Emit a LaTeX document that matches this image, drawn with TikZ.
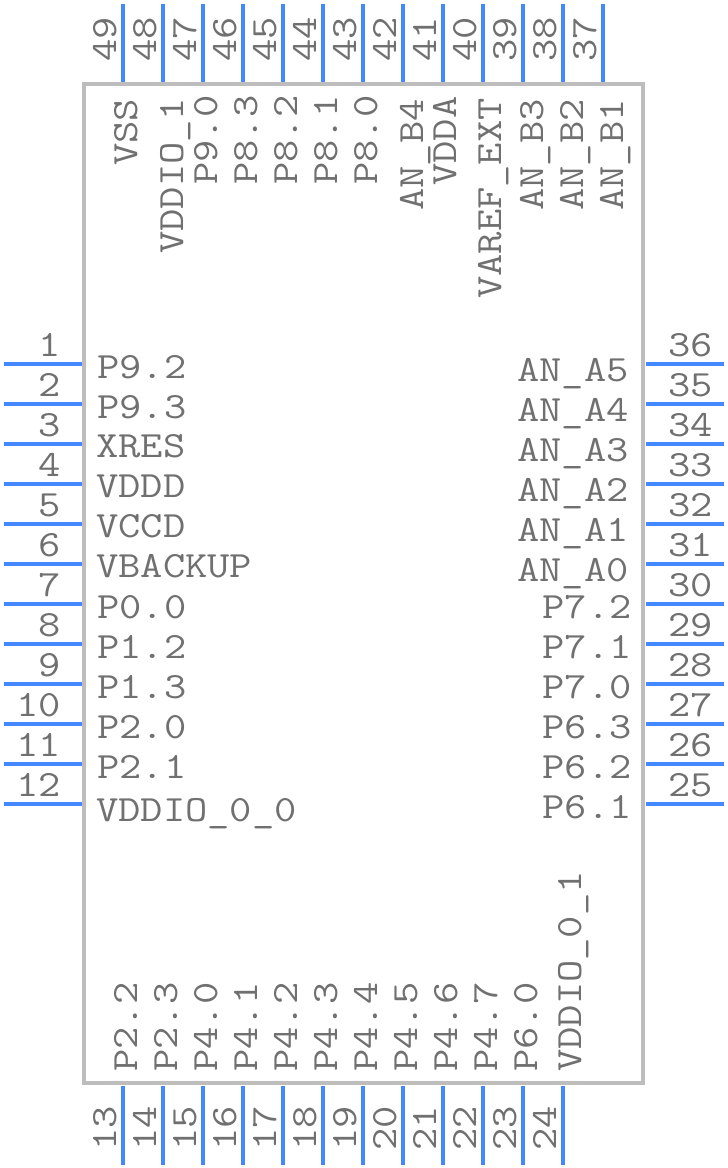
\documentclass[tikz,border=0pt]{standalone}
\usepackage{fontspec}
\setmonofont[FakeStretch=1.17]{Latin Modern Mono}
\usepackage{xcolor}
\definecolor{pinblue}{HTML}{4488FF}
\definecolor{bodygray}{HTML}{BDBDBD}
\definecolor{textgray}{HTML}{707070}
\tikzset{pin/.style={draw=pinblue,line width=3.4pt},body/.style={draw=bodygray,line width=3.4pt,rectangle,inner sep=0pt,minimum width=559pt,minimum height=999pt}}

\begin{document}
\begin{tikzpicture}[x=1pt,y=-1pt,txt/.style={text=textgray,inner sep=0pt,font=\ttfamily\fontsize{37}{37}\selectfont},numl/.style={txt,anchor=base east},numr/.style={txt,anchor=base west},lblw/.style={txt,anchor=base west},lble/.style={txt,anchor=base east},vert/.style={txt,anchor=base west,rotate=90}]
	\useasboundingbox (0,0) rectangle (728,1168);
	% outline
	\node[body] (chip) at (363.5,583.5) {};

	% left side
	\coordinate (a1) at (4,364); \coordinate (b1) at (82,364);
	\coordinate (a2) at (4,404); \coordinate (b2) at (82,404);
	\coordinate (a3) at (4,444); \coordinate (b3) at (82,444);
	\coordinate (a4) at (4,484); \coordinate (b4) at (82,484);
	\coordinate (a5) at (4,524); \coordinate (b5) at (82,524);
	\coordinate (a6) at (4,564); \coordinate (b6) at (82,564);
	\coordinate (a7) at (4,604); \coordinate (b7) at (82,604);
	\coordinate (a8) at (4,644); \coordinate (b8) at (82,644);
	\coordinate (a9) at (4,684); \coordinate (b9) at (82,684);
	\coordinate (a10) at (4,724); \coordinate (b10) at (82,724);
	\coordinate (a11) at (4,764); \coordinate (b11) at (82,764);
	\coordinate (a12) at (4,804); \coordinate (b12) at (82,804);

	\draw[pin] (a1) -- (b1);
	\draw[pin] (a2) -- (b2);
	\draw[pin] (a3) -- (b3);
	\draw[pin] (a4) -- (b4);
	\draw[pin] (a5) -- (b5);
	\draw[pin] (a6) -- (b6);
	\draw[pin] (a7) -- (b7);
	\draw[pin] (a8) -- (b8);
	\draw[pin] (a9) -- (b9);
	\draw[pin] (a10) -- (b10);
	\draw[pin] (a11) -- (b11);
	\draw[pin] (a12) -- (b12);

	\node[numl] (n1) at (61,356) {1};
	\node[numl] (n2) at (61,396) {2};
	\node[numl] (n3) at (61,436) {3};
	\node[numl] (n4) at (61,476) {4};
	\node[numl] (n5) at (61,516) {5};
	\node[numl] (n6) at (61,556) {6};
	\node[numl] (n7) at (61,596) {7};
	\node[numl] (n8) at (61,636) {8};
	\node[numl] (n9) at (61,676) {9};
	\node[numl] (n10) at (61,716) {10};
	\node[numl] (n11) at (61,756) {11};
	\node[numl] (n12) at (61,796) {12};

	\node[lblw] (l1) at (97,378) {P9.2};
	\node[lblw] (l2) at (97,418) {P9.3};
	\node[lblw] (l3) at (96,457) {XRES};
	\node[lblw] (l4) at (96,497) {VDDD};
	\node[lblw] (l5) at (96,537) {VCCD};
	\node[lblw] (l6) at (96,577) {VBACKUP};
	\node[lblw] (l7) at (97,618) {P0.0};
	\node[lblw] (l8) at (97,658) {P1.2};
	\node[lblw] (l9) at (97,698) {P1.3};
	\node[lblw] (l10) at (97,738) {P2.0};
	\node[lblw] (l11) at (97,778) {P2.1};
	\node[lblw] (l12) at (96,821) {VDDIO\_0\_0};

	% bottom side
	\coordinate (a13) at (123,1165); \coordinate (b13) at (123,1086);
	\coordinate (a14) at (163,1165); \coordinate (b14) at (163,1086);
	\coordinate (a15) at (203,1165); \coordinate (b15) at (203,1086);
	\coordinate (a16) at (243,1165); \coordinate (b16) at (243,1086);
	\coordinate (a17) at (283,1165); \coordinate (b17) at (283,1086);
	\coordinate (a18) at (323,1165); \coordinate (b18) at (323,1086);
	\coordinate (a19) at (363,1165); \coordinate (b19) at (363,1086);
	\coordinate (a20) at (403,1165); \coordinate (b20) at (403,1086);
	\coordinate (a21) at (443,1165); \coordinate (b21) at (443,1086);
	\coordinate (a22) at (483,1165); \coordinate (b22) at (483,1086);
	\coordinate (a23) at (523,1165); \coordinate (b23) at (523,1086);
	\coordinate (a24) at (563,1165); \coordinate (b24) at (563,1086);

	\draw[pin] (a13) -- (b13);
	\draw[pin] (a14) -- (b14);
	\draw[pin] (a15) -- (b15);
	\draw[pin] (a16) -- (b16);
	\draw[pin] (a17) -- (b17);
	\draw[pin] (a18) -- (b18);
	\draw[pin] (a19) -- (b19);
	\draw[pin] (a20) -- (b20);
	\draw[pin] (a21) -- (b21);
	\draw[pin] (a22) -- (b22);
	\draw[pin] (a23) -- (b23);
	\draw[pin] (a24) -- (b24);

	\node[vert] (n13) at (116,1151) {13};
	\node[vert] (n14) at (156,1151) {14};
	\node[vert] (n15) at (196,1151) {15};
	\node[vert] (n16) at (236,1151) {16};
	\node[vert] (n17) at (276,1151) {17};
	\node[vert] (n18) at (316,1151) {18};
	\node[vert] (n19) at (356,1151) {19};
	\node[vert] (n20) at (396,1151) {20};
	\node[vert] (n21) at (436,1151) {21};
	\node[vert] (n22) at (476,1151) {22};
	\node[vert] (n23) at (516,1151) {23};
	\node[vert] (n24) at (556,1151) {24};

	\node[vert] (l13) at (137,1072) {P2.2};
	\node[vert] (l14) at (177,1072) {P2.3};
	\node[vert] (l15) at (217,1072) {P4.0};
	\node[vert] (l16) at (257,1072) {P4.1};
	\node[vert] (l17) at (297,1072) {P4.2};
	\node[vert] (l18) at (337,1072) {P4.3};
	\node[vert] (l19) at (377,1072) {P4.4};
	\node[vert] (l20) at (417,1072) {P4.5};
	\node[vert] (l21) at (457,1072) {P4.6};
	\node[vert] (l22) at (497,1072) {P4.7};
	\node[vert] (l23) at (537,1072) {P6.0};
	\node[vert] (l24) at (581,1072) {VDDIO\_0\_1};

	% right side
	\coordinate (a25) at (724,804); \coordinate (b25) at (646,804);
	\coordinate (a26) at (724,764); \coordinate (b26) at (646,764);
	\coordinate (a27) at (724,724); \coordinate (b27) at (646,724);
	\coordinate (a28) at (724,684); \coordinate (b28) at (646,684);
	\coordinate (a29) at (724,644); \coordinate (b29) at (646,644);
	\coordinate (a30) at (724,604); \coordinate (b30) at (646,604);
	\coordinate (a31) at (724,564); \coordinate (b31) at (646,564);
	\coordinate (a32) at (724,524); \coordinate (b32) at (646,524);
	\coordinate (a33) at (724,484); \coordinate (b33) at (646,484);
	\coordinate (a34) at (724,444); \coordinate (b34) at (646,444);
	\coordinate (a35) at (724,404); \coordinate (b35) at (646,404);
	\coordinate (a36) at (724,364); \coordinate (b36) at (646,364);

	\draw[pin] (a25) -- (b25);
	\draw[pin] (a26) -- (b26);
	\draw[pin] (a27) -- (b27);
	\draw[pin] (a28) -- (b28);
	\draw[pin] (a29) -- (b29);
	\draw[pin] (a30) -- (b30);
	\draw[pin] (a31) -- (b31);
	\draw[pin] (a32) -- (b32);
	\draw[pin] (a33) -- (b33);
	\draw[pin] (a34) -- (b34);
	\draw[pin] (a35) -- (b35);
	\draw[pin] (a36) -- (b36);

	\node[numr] (n25) at (668,796) {25};
	\node[numr] (n26) at (668,756) {26};
	\node[numr] (n27) at (668,716) {27};
	\node[numr] (n28) at (668,676) {28};
	\node[numr] (n29) at (668,636) {29};
	\node[numr] (n30) at (668,596) {30};
	\node[numr] (n31) at (668,556) {31};
	\node[numr] (n32) at (668,516) {32};
	\node[numr] (n33) at (668,476) {33};
	\node[numr] (n34) at (668,436) {34};
	\node[numr] (n35) at (668,396) {35};
	\node[numr] (n36) at (668,356) {36};

	\node[lble] (l25) at (632,818) {P6.1};
	\node[lble] (l26) at (632,778) {P6.2};
	\node[lble] (l27) at (632,738) {P6.3};
	\node[lble] (l28) at (632,698) {P7.0};
	\node[lble] (l29) at (632,658) {P7.1};
	\node[lble] (l30) at (632,618) {P7.2};
	\node[lble] (l31) at (629,581) {AN\_A0};
	\node[lble] (l32) at (629,541) {AN\_A1};
	\node[lble] (l33) at (629,501) {AN\_A2};
	\node[lble] (l34) at (629,461) {AN\_A3};
	\node[lble] (l35) at (629,421) {AN\_A4};
	\node[lble] (l36) at (629,381) {AN\_A5};

	% top side
	\coordinate (a37) at (603,4); \coordinate (b37) at (603,82);
	\coordinate (a38) at (563,4); \coordinate (b38) at (563,82);
	\coordinate (a39) at (523,4); \coordinate (b39) at (523,82);
	\coordinate (a40) at (483,4); \coordinate (b40) at (483,82);
	\coordinate (a41) at (443,4); \coordinate (b41) at (443,82);
	\coordinate (a42) at (403,4); \coordinate (b42) at (403,82);
	\coordinate (a43) at (363,4); \coordinate (b43) at (363,82);
	\coordinate (a44) at (323,4); \coordinate (b44) at (323,82);
	\coordinate (a45) at (283,4); \coordinate (b45) at (283,82);
	\coordinate (a46) at (243,4); \coordinate (b46) at (243,82);
	\coordinate (a47) at (203,4); \coordinate (b47) at (203,82);
	\coordinate (a48) at (163,4); \coordinate (b48) at (163,82);
	\coordinate (a49) at (123,4); \coordinate (b49) at (123,82);

	\draw[pin] (a37) -- (b37);
	\draw[pin] (a38) -- (b38);
	\draw[pin] (a39) -- (b39);
	\draw[pin] (a40) -- (b40);
	\draw[pin] (a41) -- (b41);
	\draw[pin] (a42) -- (b42);
	\draw[pin] (a43) -- (b43);
	\draw[pin] (a44) -- (b44);
	\draw[pin] (a45) -- (b45);
	\draw[pin] (a46) -- (b46);
	\draw[pin] (a47) -- (b47);
	\draw[pin] (a48) -- (b48);
	\draw[pin] (a49) -- (b49);

	\node[vert] (n37) at (596,62) {37};
	\node[vert] (n38) at (556,62) {38};
	\node[vert] (n39) at (516,62) {39};
	\node[vert] (n40) at (476,62) {40};
	\node[vert] (n41) at (436,62) {41};
	\node[vert] (n42) at (396,62) {42};
	\node[vert] (n43) at (356,62) {43};
	\node[vert] (n44) at (316,62) {44};
	\node[vert] (n45) at (276,62) {45};
	\node[vert] (n46) at (236,62) {46};
	\node[vert] (n47) at (196,62) {47};
	\node[vert] (n48) at (156,62) {48};
	\node[vert] (n49) at (116,62) {49};

	\node[vert] (l37) at (623,211) {AN\_B1};
	\node[vert] (l38) at (583,211) {AN\_B2};
	\node[vert] (l39) at (543,211) {AN\_B3};
	\node[vert] (l40) at (501,299) {VAREF\_EXT};
	\node[vert] (l41) at (456,186) {VDDA};
	\node[vert] (l42) at (423,211) {AN\_B4};
	\node[vert] (l43) at (377,185) {P8.0};
	\node[vert] (l44) at (337,185) {P8.1};
	\node[vert] (l45) at (297,185) {P8.2};
	\node[vert] (l46) at (257,185) {P8.3};
	\node[vert] (l47) at (217,185) {P9.0};
	\node[vert] (l48) at (183,254) {VDDIO\_1};
	\node[vert] (l49) at (137,166) {VSS};
\end{tikzpicture}
\end{document}
